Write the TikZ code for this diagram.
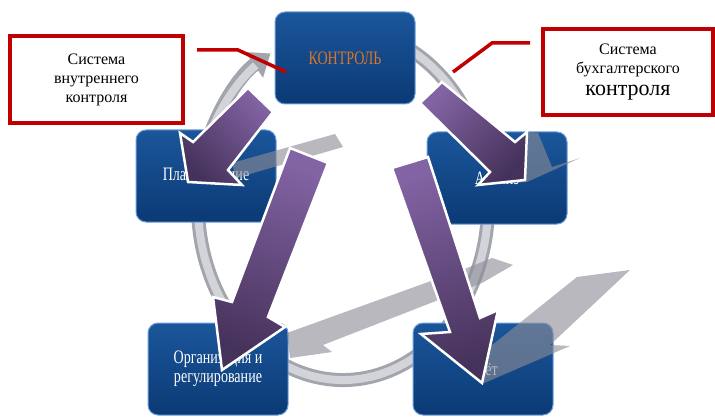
\documentclass[tikz,border=0pt]{standalone}
\usepackage{fontspec}
\setmainfont{Liberation Serif}
\newfontfamily\condserif[FakeStretch=0.74]{Liberation Serif}
\usetikzlibrary{arrows.meta}

\definecolor{boxtop}{HTML}{1B569B}
\definecolor{boxbot}{HTML}{0B3A74}
\definecolor{boxrim}{HTML}{6C9FDC}
\definecolor{ctrlorange}{HTML}{D8752A}
\definecolor{notered}{HTML}{C00000}
\definecolor{purplelight}{HTML}{8263A3}
\definecolor{purpledark}{HTML}{45325A}
\definecolor{ghostgray}{HTML}{8C8C96}
\definecolor{ringedge}{HTML}{A3A5AD}
\definecolor{ringface}{HTML}{D2D4DA}

\begin{document}
\begin{tikzpicture}[x=1pt, y=-1pt,
    stage/.style={draw=boxrim, line width=1pt, rounded corners=10pt,
      top color=boxtop, bottom color=boxbot, minimum width=140pt,
      minimum height=92pt, inner sep=2pt, align=center, text=white,
      font=\condserif\fontsize{19}{19}\selectfont},
    note/.style={draw=notered, line width=3.5pt, fill=white, align=center,
      inner sep=2pt, font=\fontsize{16}{19}\selectfont},
    leader/.style={draw=notered, line width=3.5pt},
    bigarrow/.style={draw=white, line width=2.5pt, line join=miter,
      top color=purplelight, bottom color=purpledark},
    ghost/.style={fill=ghostgray, fill opacity=0.62}]
  \useasboundingbox (0,0) rectangle (715,417);

  % cycle ring behind the stages
  \coordinate (hub) at (343,205);
  \draw[ringedge, line width=14pt, -{Triangle[width=30pt, length=20pt]}]
    (hub) ++(-70:145 and 175) arc[start angle=-70, end angle=240, x radius=145, y radius=175];
  \draw[ringface, line width=8pt]
    (hub) ++(-70:145 and 175) arc[start angle=-70, end angle=233, x radius=145, y radius=175];

  % stages
  \node[stage, text=ctrlorange] (ctrl) at (345,58) {КОНТРОЛЬ};
  \node[stage] (plan) at (206,176) {Планирование};
  \node[stage] (anal) at (497,178) {Анализ};
  \node[stage] (org) at (218,369) {Организация и\\регулирование};
  \node[stage] (acct) at (483,369) {Учёт};

  % leaders of the notes
  \coordinate (lfoot) at (197,50);
  \coordinate (lknee) at (238,50);
  \coordinate (lhead) at (286,72);
  \coordinate (rfoot) at (530,43);
  \coordinate (rknee) at (492,43);
  \coordinate (rhead) at (453,72);
  \draw[leader] (lfoot) -- (lknee) -- (lhead);
  \draw[leader] (rfoot) -- (rknee) -- (rhead);

  % shadows of the arrows
  \fill[ghost] (232,163) -- (335,134) -- (343,147) -- (236,178) -- cycle;
  \fill[ghost] (527,132) -- (538,133) -- (552,167) -- (580,158) -- (527,182) -- (477,185) -- cycle;
  \fill[ghost] (287,333) -- (467,268) -- (492,258) -- (513,265) -- (482,283) -- (323,345)
    -- (332,352) -- (290,358) -- cycle;
  \fill[ghost] (577,277) -- (630,270) -- (550,345) -- (570,346) -- (482,384) -- (486,350) -- cycle;

  % arrows from the control stage
  \path[bigarrow, shading angle=-45] (248,88) -- (273,112) -- (228,170) -- (242,185)
    -- (188,182) -- (180,133) -- (193,142) -- cycle;
  \path[bigarrow, shading angle=-20] (290,148) -- (328,163) -- (268,317) -- (285,327)
    -- (222,370) -- (213,297) -- (232,302) -- cycle;
  \path[bigarrow, shading angle=45] (442,82) -- (515,142) -- (527,132) -- (525,180)
    -- (478,185) -- (490,172) -- (420,103) -- cycle;
  \path[bigarrow, shading angle=18] (392,168) -- (428,157) -- (480,318) -- (498,310)
    -- (482,383) -- (421,334) -- (450,332) -- cycle;

  % notes
  \node[note, minimum width=173pt, minimum height=87pt] (intsys) at (96.5,79.5)
    {Система\\внутреннего\\контроля};
  \node[note, minimum width=170pt, minimum height=86pt] (accsys) at (628,72)
    {Система\\бухгалтерского\\[3pt]{\fontsize{22}{22}\selectfont контроля}};
\end{tikzpicture}
\end{document}
